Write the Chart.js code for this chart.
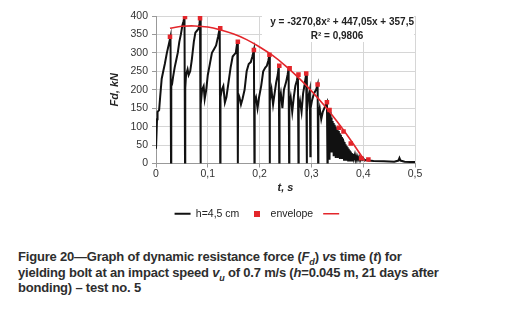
<!DOCTYPE html>
<html lang="en">
<head>
<meta charset="UTF-8">
<title>Figure 20</title>
<script src="https://cdn.jsdelivr.net/npm/chart.js@4/dist/chart.umd.min.js"></script>
<style>
  body { margin: 0; background: #fff; width: 516px; height: 322px; overflow: hidden; }
  #wrap { position: relative; width: 516px; height: 229px; }
  #cap { position: absolute; left: 18px; top: 249px; width: 498px; white-space: nowrap;
         font-family: "Liberation Sans", Arial, sans-serif; font-weight: bold;
         font-size: 13px; line-height: 15.5px; color: #2e2e2e; letter-spacing: -0.2px; }
  #cap sub { font-size: 9px; line-height: 0; }
</style>
</head>
<body>
<div id="wrap"><canvas id="myChart" width="516" height="229"></canvas></div>
<div id="cap">Figure 20&#8212;Graph of dynamic resistance force (<i>F<sub>d</sub></i>) <i>vs</i> time (<i>t</i>) for<br>
yielding bolt at an impact speed <i>v<sub>u</sub></i> of 0.7 m/s (<i>h</i>=0.045 m, 21 days after<br>
bonding) &#8211; test no. 5</div>
<script>
var sigT = [0.000,0.002,0.003,0.006,0.008,0.011,0.014,0.017,0.021,0.025,0.028,0.029,
  0.0295,0.031,0.033,0.036,0.039,0.042,0.045,0.048,0.051,0.053,0.055,0.056,
  0.0565,0.058,0.061,0.063,0.066,0.069,0.073,0.076,0.079,0.082,0.084,0.085,0.086,
  0.0865,0.089,0.092,0.094,0.097,0.100,0.104,0.108,0.112,0.116,0.120,0.123,0.124,
  0.1245,0.127,0.130,0.133,0.136,0.140,0.144,0.148,0.151,0.154,0.157,0.158,
  0.1585,0.161,0.164,0.167,0.171,0.175,0.179,0.183,0.186,0.189,0.190,
  0.1905,0.193,0.196,0.199,0.203,0.207,0.211,0.214,0.217,0.219,0.2195,
  0.220,0.223,0.226,0.229,0.232,0.235,0.237,0.238,
  0.2385,0.241,0.244,0.247,0.251,0.254,0.256,0.257,
  0.2575,0.260,0.263,0.266,0.269,0.272,0.274,0.275,
  0.2755,0.278,0.281,0.284,0.287,0.290,0.291,
  0.2915,0.294,0.297,0.298,0.2985,0.301,0.305,0.309,0.312,0.313,
  0.3135,0.316,0.319,0.322,0.325,0.328,0.330,0.331,
  0.3315,0.3325,0.333,0.334,0.335,0.336,0.337,0.338,0.339,0.340,0.341,0.342,0.343,0.344,
  0.345,0.346,0.347,0.348,0.349,0.350,0.351,0.352,0.353,0.354,0.355,0.356,0.357,0.358,
  0.359,0.360,0.361,0.362,0.363,0.364,0.365,0.366,0.367,0.368,0.369,0.370,0.371,0.372,
  0.373,0.374,0.375,0.376,0.377,0.378,0.379,0.380,0.382,0.384,0.386,0.388,0.390,0.392,
  0.394,0.396,0.398,0.400,0.403,0.406,0.410,0.420,0.440,0.460,0.468,0.470,0.472,0.480,0.490,0.500];
var sigF = [40,120,140,145,180,230,250,270,300,325,344,0,
  210,215,235,260,280,300,330,350,375,385,397,0,
  205,240,255,240,250,280,330,355,360,365,380,394,0,
  160,200,210,175,200,240,270,300,310,320,345,367,0,
  180,200,210,165,180,220,260,290,295,300,330,0,
  190,180,160,175,200,250,270,275,290,308,0,
  170,180,150,180,210,250,260,265,280,295,0,
  170,200,160,190,220,240,265,0,
  170,190,150,200,220,240,258,0,
  160,180,140,180,210,225,241,0,
  150,170,140,190,215,244,0,
  140,180,200,20,150,170,190,200,214,0,
  130,150,120,140,150,160,166,0,
  120,150,40,130,10,140,60,125,30,115,50,110,20,105,
  45,100,15,95,40,90,15,88,35,82,12,78,30,72,
  12,68,28,62,10,58,25,52,10,48,20,44,8,40,
  18,36,8,32,14,28,8,26,12,24,8,20,10,18,
  8,16,10,14,8,10,8,7,6,5,8,15,8,5,4,4];

// envelope points (red squares)
var envT = [0.027,0.056,0.085,0.124,0.158,0.189,0.219,0.238,0.258,0.275,0.290,0.312,0.330,0.335,0.353,0.362,0.376,0.396,0.410];
var envF = [344,397,394,367,330,308,295,265,258,241,244,214,166,145,97,87,54,14,11];

// polynomial trend line as drawn (red curve)
var trendT = [0.027,0.05,0.075,0.1,0.125,0.15,0.175,0.2,0.225,0.25,0.275,0.3,0.325,0.35,0.375,0.403];
var trendF = [367,372,373,370,362,351,336,316,293,265,233,197,157,113,65,7];

var xTicks = [0,0.1,0.2,0.3,0.4,0.5];
var yTicks = [0,50,100,150,200,250,300,350,400];

function pts(a, b) {
  var out = [];
  for (var i = 0; i < a.length; i++) out.push({x: a[i], y: b[i]});
  return out;
}

var RED = '#e3262b';
var FONT = '"Liberation Sans", Arial, sans-serif';

// small red square for the legend entry (the default one gets stretched)
var sq = document.createElement('canvas');
sq.width = 6; sq.height = 6;
var sqc = sq.getContext('2d');
sqc.fillStyle = RED;
sqc.fillRect(0, 0, 6, 6);

// equation box in the top right corner of the plot
var eqPlugin = {
  id: 'eq',
  afterDatasetsDraw: function(chart) {
    var c = chart.ctx;
    var a = chart.chartArea;
    c.save();
    c.fillStyle = '#fff';
    c.fillRect(a.right - 153, a.top - 1, 152, 27);
    c.fillStyle = '#222';
    c.font = 'bold 10px ' + FONT;
    c.textAlign = 'right';
    c.textBaseline = 'middle';
    c.fillText('y = -3270,8x\u00b2 + 447,05x + 357,5', a.right - 1, a.top + 6);
    c.textAlign = 'center';
    c.fillText('R\u00b2 = 0,9806', a.right - 78, a.top + 20);
    c.restore();
  }
};

var ctx = document.getElementById('myChart').getContext('2d');
var myChart = new Chart(ctx, {
  type: 'scatter',
  data: {
    datasets: [
      {label: 'h=4,5 cm', data: pts(sigT, sigF), showLine: true, borderColor: '#111', backgroundColor: '#111',
       borderWidth: 2, pointRadius: 0, pointStyle: 'line', order: 3},
      {label: 'envelope', data: pts(envT, envF), showLine: false, borderColor: RED, backgroundColor: RED,
       pointStyle: 'rect', pointRadius: 3.2, borderWidth: 0, order: 1},
      {label: '', data: pts(trendT, trendF), showLine: true, borderColor: RED, backgroundColor: RED,
       borderWidth: 1.6, pointRadius: 0, pointStyle: 'line', tension: 0.4, order: 2}
    ]
  },
  options: {
    animation: false,
    responsive: false,
    layout: {padding: {left: 104, right: 101, top: 16, bottom: 0}},
    plugins: {
      tooltip: {enabled: false},
      legend: {
        position: 'bottom',
        labels: {
          usePointStyle: true, pointStyleWidth: 16, boxHeight: 7, padding: 10,
          color: '#222', font: {family: FONT, size: 10.5},
          sort: function(a, b) { return a.datasetIndex - b.datasetIndex; },
          generateLabels: function(chart) {
            var items = Chart.defaults.plugins.legend.labels.generateLabels(chart);
            items.forEach(function(it) { if (it.datasetIndex === 1) it.pointStyle = sq; });
            return items;
          }
        }
      }
    },
    scales: {
      x: {
        type: 'linear', min: 0, max: 0.5,
        afterBuildTicks: function(s) { s.ticks = xTicks.map(function(v) { return {value: v}; }); },
        afterFit: function(s) { s.height = 35; },
        ticks: {color: '#333', font: {family: FONT, size: 10.5}, padding: 0,
                callback: function(v) { return v === 0 ? '0' : v.toFixed(1).replace('.', ','); }},
        grid: {color: '#d6d6d6', tickLength: 4, tickColor: '#999'},
        border: {color: '#999'},
        title: {display: true, text: 't, s', color: '#222', padding: {top: 0},
                font: {family: FONT, size: 11, weight: 'bold', style: 'italic'}}
      },
      y: {
        min: 0, max: 400,
        afterBuildTicks: function(s) { s.ticks = yTicks.map(function(v) { return {value: v}; }); },
        afterFit: function(s) { s.width = 52; },
        ticks: {color: '#333', font: {family: FONT, size: 10.5}, padding: 4},
        grid: {color: '#d6d6d6', tickLength: 4, tickColor: '#999'},
        border: {color: '#999'},
        title: {display: true, text: 'Fd, kN', color: '#222', padding: {bottom: 2},
                font: {family: FONT, size: 11, weight: 'bold', style: 'italic'}}
      }
    }
  },
  plugins: [eqPlugin]
});
</script>
</body>
</html>
